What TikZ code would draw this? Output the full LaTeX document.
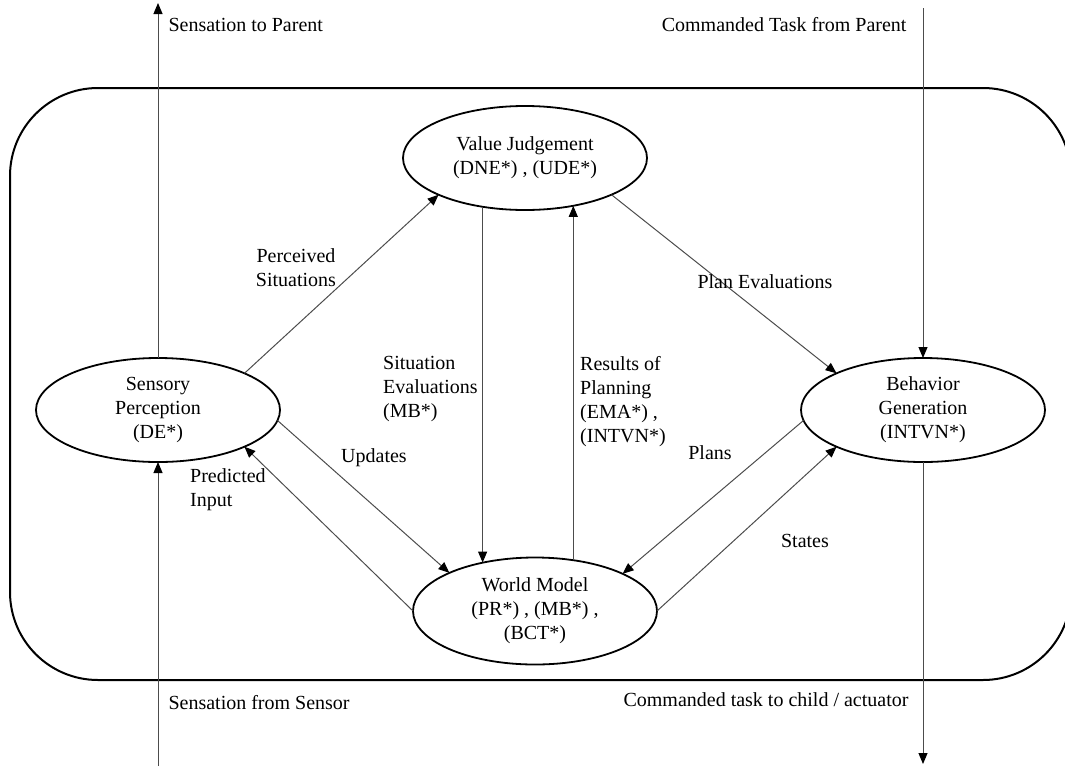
\documentclass[tikz,border=0pt]{standalone}
\usepackage{fontspec}
\setmainfont{Liberation Serif}
\usetikzlibrary{shapes.geometric,arrows.meta}
\begin{document}
\begin{tikzpicture}[x=1pt,y=-1pt,
  every node/.style={font=\fontsize{20}{24}\selectfont},
  proc/.style={ellipse, draw=black, line width=1.8pt, minimum width=244pt,
    minimum height=104pt, inner sep=0pt, outer sep=0pt, align=center},
  link/.style={draw=black!70, line width=1pt,
    -{Triangle[length=11pt,width=9pt,color=black]}},
  lbl/.style={align=left, inner sep=0pt},
]
\useasboundingbox (0,0) rectangle (1065,766);

% enclosing frame
\draw[line width=2pt, rounded corners=88pt] (10,88) rectangle (1071,680);

% processing modules
\node[proc] (vj) at (525,158) {Value Judgement\\(DNE*) , (UDE*)};
\node[proc] (sp) at (158,410) {Sensory\\Perception\\(DE*)};
\node[proc] (bg) at (923,410) {Behavior\\Generation\\(INTVN*)};
\node[proc, minimum height=107pt] (wm) at (535,611) {World Model\\(PR*) , (MB*) ,\\(BCT*)};

% outside ends
\coordinate (stp) at (158,3);
\coordinate (sfs) at (158,766);
\coordinate (ctp) at (923,8);
\coordinate (ctc) at (923,764);

\draw[link] (sp.north) -- (stp);
\draw[link] (sfs) -- (sp.south);
\draw[link] (ctp) -- (bg.north);
\draw[link] (bg.south) -- (ctc);

% internal flows
\draw[link] (sp.23) -- (vj.203);
\draw[link] (vj.-23) -- (bg.157);
\draw[link] (vj.229.3) -- (vj.229.3 |- wm.137.1);
\draw[link] (wm.53.2) -- (wm.53.2 |- vj.315.1);
\draw[link] (sp.-5) -- (wm.156);
\draw[link] (wm.180) -- (sp.-23);
\draw[link] (bg.185) -- (wm.23);
\draw[link] (wm.0) -- (bg.203);

% labels
\node[align=center] (l1) at (296,268) {Perceived\\Situations};
\node (l2) at (765,282) {Plan Evaluations};
\node[lbl, anchor=north west] (l3) at (383,356) {Situation\\Evaluations\\(MB*)};
\node[lbl, anchor=north west] (l4) at (580,356) {Results of\\Planning\\(EMA*) ,\\(INTVN*)};
\node (l5) at (374,458) {Updates};
\node[lbl, anchor=west] (l6) at (190,490) {Predicted\\Input};
\node (l7) at (710,453) {Plans};
\node (l8) at (805,541) {States};
\node[anchor=west] (t1) at (165,25) {Sensation to Parent};
\node[anchor=east] (t2) at (910,25) {Commanded Task from Parent};
\node[anchor=west] (t3) at (165,703) {Sensation from Sensor};
\node[anchor=east] (t4) at (912,700) {Commanded task to child / actuator};
\end{tikzpicture}
\end{document}
